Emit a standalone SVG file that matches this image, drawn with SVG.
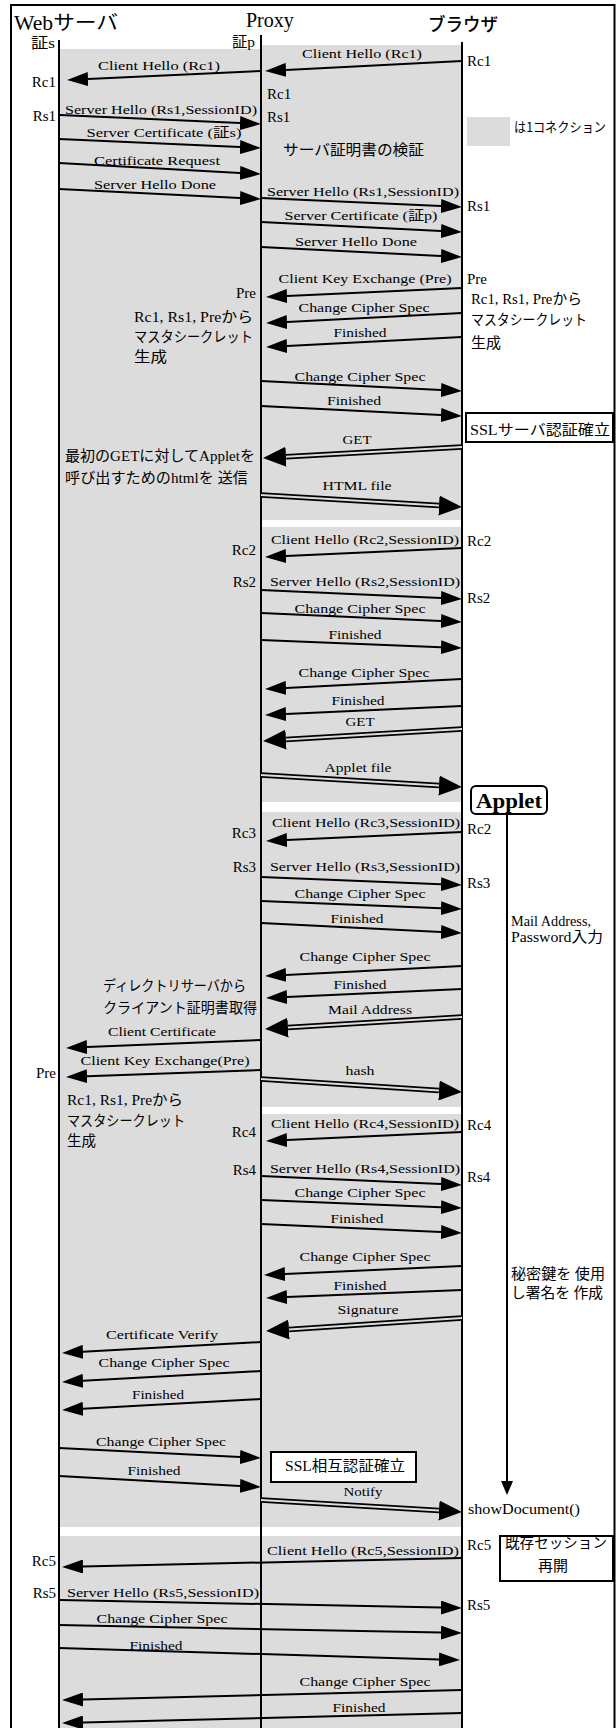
<svg xmlns="http://www.w3.org/2000/svg" width="616" height="1728" viewBox="0 0 616 1728">
<style>
.bg{fill:#dcdcdc}
.ll{stroke:#000;stroke-width:2;fill:none}
.m{stroke:#000;stroke-width:2;fill:none;marker-end:url(#ah)}
.do{stroke:#000;stroke-width:5.5;fill:none;marker-end:url(#ah2)}
.di{stroke:#dcdcdc;stroke-width:2;fill:none}
.box{fill:#fff;stroke:#000;stroke-width:2}
text{font-family:"Liberation Serif","Noto Sans CJK JP",serif;fill:#000}
.l{font-size:13.5px;text-anchor:middle}
.s{font-size:15px}
.e{text-anchor:end}
.jp{font-family:"Liberation Serif","Noto Sans CJK JP",sans-serif;font-size:14.5px}
.g{font-family:"Noto Sans CJK JP",sans-serif}
.h{font-size:20px}
</style>
<defs>
<marker id="ah" markerWidth="21" markerHeight="14" refX="0" refY="7" orient="auto" markerUnits="userSpaceOnUse"><path d="M0,0 L21,7 L0,14 z" fill="#000"/></marker>
<marker id="ah2" markerWidth="23" markerHeight="20" refX="0" refY="10" orient="auto" markerUnits="userSpaceOnUse"><path d="M0,0 L23,10 L0,20 z" fill="#000"/></marker>
</defs>
<rect x="0" y="0" width="616" height="1728" fill="#fff"/>
<rect x="11" y="5" width="603.5" height="1740" fill="none" stroke="#000" stroke-width="2"/>

<g id="connections">
<rect class="bg" x="59" y="49" width="202" height="1478"/>
<rect class="bg" x="59" y="1536" width="202" height="200"/>
<rect class="bg" x="261" y="45" width="201" height="475"/>
<rect class="bg" x="261" y="527" width="201" height="275"/>
<rect class="bg" x="261" y="812" width="201" height="295"/>
<rect class="bg" x="261" y="1114" width="201" height="413"/>
<rect class="bg" x="261" y="1536" width="201" height="200"/>
</g>

<g id="legend">
<rect class="bg" x="467" y="117" width="43" height="29"/>
<text class="g" x="514" y="132" font-size="13.5" textLength="92" lengthAdjust="spacingAndGlyphs">は1コネクション</text>
</g>

<g id="web">
<text class="h" x="14" y="30" textLength="104" lengthAdjust="spacingAndGlyphs">Web<tspan class="g">サーバ</tspan></text>
<text class="s" x="31" y="48" textLength="24" lengthAdjust="spacingAndGlyphs"><tspan class="g">証</tspan>s</text>
<line class="ll" x1="59" y1="40" x2="59" y2="1740"/>
</g>
<g id="proxy">
<text class="h" x="246" y="27">Proxy</text>
<text class="s" x="232" y="47" textLength="23" lengthAdjust="spacingAndGlyphs"><tspan class="g">証</tspan>p</text>
<line class="ll" x1="261" y1="35" x2="261" y2="1740"/>
</g>
<g id="browser">
<text class="g" x="428" y="31" font-size="18" font-weight="500" textLength="70" lengthAdjust="spacingAndGlyphs">ブラウザ</text>
<line class="ll" x1="462" y1="42" x2="462" y2="1740"/>
</g>
<g id="applet">
<rect x="471" y="786" width="76" height="28" rx="5" fill="#fff" stroke="#000" stroke-width="2"/>
<text x="509" y="808" font-size="21" font-weight="bold" text-anchor="middle" textLength="66" lengthAdjust="spacingAndGlyphs">Applet</text>
</g>

<g id="connectors">
<line class="ll" x1="507" y1="814" x2="507" y2="1482"/>
<polygon points="501,1481 513,1481 507,1495" fill="#000"/>
<path class="m" d="M462,61 L286,69.9"/>
<path class="m" d="M261,71 L88,79"/>
<path class="m" d="M60,115 L240,123.1"/>
<path class="m" d="M59,139 L240,147.1"/>
<path class="m" d="M59,163 L240,172.9"/>
<path class="m" d="M59,189 L240,198"/>
<path class="m" d="M261,198 L441,206.1"/>
<path class="m" d="M261,222 L441,231"/>
<path class="m" d="M261,247 L441,256"/>
<path class="m" d="M462,288 L287,296"/>
<path class="m" d="M462,313 L287,322"/>
<path class="m" d="M462,337 L287,346"/>
<path class="m" d="M261,381 L441,390"/>
<path class="m" d="M261,406 L441,415"/>
<path class="do" d="M462,447 L286,456.7"/><path class="di" d="M462,447 L286,456.7"/>
<path class="do" d="M261,495 L439,505.6"/><path class="di" d="M261,495 L439,505.6"/>
<path class="m" d="M462,548 L286,556"/>
<path class="m" d="M261,590 L441,598.1"/>
<path class="m" d="M261,613 L441,621.1"/>
<path class="m" d="M261,640 L441,647.2"/>
<path class="m" d="M462,679 L286,687.9"/>
<path class="m" d="M462,706 L286,714"/>
<path class="do" d="M462,729 L286,739.6"/><path class="di" d="M462,729 L286,739.6"/>
<path class="do" d="M261,775 L439,785.6"/><path class="di" d="M261,775 L439,785.6"/>
<path class="m" d="M462,832 L287,840"/>
<path class="m" d="M261,877 L441,884.2"/>
<path class="m" d="M261,901 L441,908.2"/>
<path class="m" d="M261,923 L441,932"/>
<path class="m" d="M462,966 L286,974.9"/>
<path class="m" d="M462,989 L287,997"/>
<path class="do" d="M462,1017 L288,1027.6"/><path class="di" d="M462,1017 L288,1027.6"/>
<path class="m" d="M261,1040 L87,1047.1"/>
<path class="m" d="M261,1070 L87,1076.2"/>
<path class="do" d="M261,1079 L439,1090.5"/><path class="di" d="M261,1079 L439,1090.5"/>
<path class="m" d="M462,1132 L287,1140"/>
<path class="m" d="M261,1176 L441,1184.1"/>
<path class="m" d="M261,1200 L441,1207.2"/>
<path class="m" d="M261,1224 L441,1232.1"/>
<path class="m" d="M462,1266 L285,1274"/>
<path class="m" d="M462,1290 L287,1297.1"/>
<path class="do" d="M462,1318 L289,1329.5"/><path class="di" d="M462,1318 L289,1329.5"/>
<path class="m" d="M261,1342 L83,1351.8"/>
<path class="m" d="M261,1371 L83,1380.8"/>
<path class="m" d="M261,1399 L83,1408.8"/>
<path class="m" d="M59,1448 L240,1457"/>
<path class="m" d="M59,1476 L240,1485.9"/>
<path class="do" d="M261,1500 L439,1510.6"/><path class="di" d="M261,1500 L439,1510.6"/>
<path class="m" d="M462,1558 L83,1566.5"/>
<path class="m" d="M60,1600 L441,1607.6"/>
<path class="m" d="M59,1625 L441,1632.6"/>
<path class="m" d="M59,1648 L439,1659.4"/>
<path class="m" d="M462,1690 L83,1699.5"/>
<path class="m" d="M462,1713 L83,1722.5"/>
</g>

<g id="labels">
<text class="l" x="362" y="58" textLength="120" lengthAdjust="spacingAndGlyphs">Client Hello (Rc1)</text>
<text class="l" x="159" y="70" textLength="122" lengthAdjust="spacingAndGlyphs">Client Hello (Rc1)</text>
<text class="l" x="161" y="114" textLength="192" lengthAdjust="spacingAndGlyphs">Server Hello (Rs1,SessionID)</text>
<text class="l" x="164" y="137" textLength="155" lengthAdjust="spacingAndGlyphs">Server Certificate (<tspan class="g">証</tspan>s)</text>
<text class="l" x="157" y="165" textLength="126" lengthAdjust="spacingAndGlyphs">Certificate Request</text>
<text class="l" x="155" y="189" textLength="122" lengthAdjust="spacingAndGlyphs">Server Hello Done</text>
<text class="l" x="363" y="196" textLength="192" lengthAdjust="spacingAndGlyphs">Server Hello (Rs1,SessionID)</text>
<text class="l" x="361" y="220" textLength="153" lengthAdjust="spacingAndGlyphs">Server Certificate (<tspan class="g">証</tspan>p)</text>
<text class="l" x="356" y="246" textLength="122" lengthAdjust="spacingAndGlyphs">Server Hello Done</text>
<text class="l" x="365" y="283" textLength="173" lengthAdjust="spacingAndGlyphs">Client Key Exchange (Pre)</text>
<text class="l" x="364" y="312" textLength="131" lengthAdjust="spacingAndGlyphs">Change Cipher Spec</text>
<text class="l" x="360" y="337" textLength="53" lengthAdjust="spacingAndGlyphs">Finished</text>
<text class="l" x="360" y="381" textLength="131" lengthAdjust="spacingAndGlyphs">Change Cipher Spec</text>
<text class="l" x="354" y="405" textLength="54" lengthAdjust="spacingAndGlyphs">Finished</text>
<text class="l" x="357" y="444" textLength="29" lengthAdjust="spacingAndGlyphs">GET</text>
<text class="l" x="357" y="490" textLength="69" lengthAdjust="spacingAndGlyphs">HTML file</text>
<text class="l" x="365" y="544" textLength="188" lengthAdjust="spacingAndGlyphs">Client Hello (Rc2,SessionID)</text>
<text class="l" x="365" y="586" textLength="190" lengthAdjust="spacingAndGlyphs">Server Hello (Rs2,SessionID)</text>
<text class="l" x="360" y="613" textLength="131" lengthAdjust="spacingAndGlyphs">Change Cipher Spec</text>
<text class="l" x="355" y="639" textLength="53" lengthAdjust="spacingAndGlyphs">Finished</text>
<text class="l" x="364" y="677" textLength="131" lengthAdjust="spacingAndGlyphs">Change Cipher Spec</text>
<text class="l" x="358" y="705" textLength="53" lengthAdjust="spacingAndGlyphs">Finished</text>
<text class="l" x="360" y="726" textLength="29" lengthAdjust="spacingAndGlyphs">GET</text>
<text class="l" x="358" y="772" textLength="67" lengthAdjust="spacingAndGlyphs">Applet file</text>
<text class="l" x="366" y="827" textLength="188" lengthAdjust="spacingAndGlyphs">Client Hello (Rc3,SessionID)</text>
<text class="l" x="365" y="871" textLength="190" lengthAdjust="spacingAndGlyphs">Server Hello (Rs3,SessionID)</text>
<text class="l" x="360" y="898" textLength="131" lengthAdjust="spacingAndGlyphs">Change Cipher Spec</text>
<text class="l" x="357" y="923" textLength="53" lengthAdjust="spacingAndGlyphs">Finished</text>
<text class="l" x="365" y="961" textLength="131" lengthAdjust="spacingAndGlyphs">Change Cipher Spec</text>
<text class="l" x="360" y="989" textLength="53" lengthAdjust="spacingAndGlyphs">Finished</text>
<text class="l" x="370" y="1014" textLength="84" lengthAdjust="spacingAndGlyphs">Mail Address</text>
<text class="l" x="162" y="1036" textLength="108" lengthAdjust="spacingAndGlyphs">Client Certificate</text>
<text class="l" x="165" y="1065" textLength="169" lengthAdjust="spacingAndGlyphs">Client Key Exchange(Pre)</text>
<text class="l" x="360" y="1075" textLength="29" lengthAdjust="spacingAndGlyphs">hash</text>
<text class="l" x="365" y="1128" textLength="188" lengthAdjust="spacingAndGlyphs">Client Hello (Rc4,SessionID)</text>
<text class="l" x="365" y="1173" textLength="190" lengthAdjust="spacingAndGlyphs">Server Hello (Rs4,SessionID)</text>
<text class="l" x="360" y="1197" textLength="131" lengthAdjust="spacingAndGlyphs">Change Cipher Spec</text>
<text class="l" x="357" y="1223" textLength="53" lengthAdjust="spacingAndGlyphs">Finished</text>
<text class="l" x="365" y="1261" textLength="131" lengthAdjust="spacingAndGlyphs">Change Cipher Spec</text>
<text class="l" x="360" y="1290" textLength="53" lengthAdjust="spacingAndGlyphs">Finished</text>
<text class="l" x="368" y="1314" textLength="61" lengthAdjust="spacingAndGlyphs">Signature</text>
<text class="l" x="162" y="1339" textLength="112" lengthAdjust="spacingAndGlyphs">Certificate Verify</text>
<text class="l" x="164" y="1367" textLength="131" lengthAdjust="spacingAndGlyphs">Change Cipher Spec</text>
<text class="l" x="158" y="1399" textLength="52" lengthAdjust="spacingAndGlyphs">Finished</text>
<text class="l" x="161" y="1446" textLength="130" lengthAdjust="spacingAndGlyphs">Change Cipher Spec</text>
<text class="l" x="154" y="1475" textLength="53" lengthAdjust="spacingAndGlyphs">Finished</text>
<text class="l" x="363" y="1496" textLength="39" lengthAdjust="spacingAndGlyphs">Notify</text>
<text class="l" x="363" y="1555" textLength="192" lengthAdjust="spacingAndGlyphs">Client Hello (Rc5,SessionID)</text>
<text class="l" x="163" y="1597" textLength="192" lengthAdjust="spacingAndGlyphs">Server Hello (Rs5,SessionID)</text>
<text class="l" x="162" y="1623" textLength="131" lengthAdjust="spacingAndGlyphs">Change Cipher Spec</text>
<text class="l" x="156" y="1650" textLength="53" lengthAdjust="spacingAndGlyphs">Finished</text>
<text class="l" x="365" y="1686" textLength="131" lengthAdjust="spacingAndGlyphs">Change Cipher Spec</text>
<text class="l" x="359" y="1712" textLength="53" lengthAdjust="spacingAndGlyphs">Finished</text>
</g>

<g id="values">
<text class="s" x="467" y="66">Rc1</text>
<text class="s e" x="56" y="87">Rc1</text>
<text class="s" x="267" y="99">Rc1</text>
<text class="s e" x="56" y="121">Rs1</text>
<text class="s" x="267" y="122">Rs1</text>
<text class="s" x="467" y="211">Rs1</text>
<text class="s" x="467" y="284">Pre</text>
<text class="s e" x="256" y="298">Pre</text>
<text class="s" x="467" y="546">Rc2</text>
<text class="s e" x="256" y="555">Rc2</text>
<text class="s e" x="256" y="587">Rs2</text>
<text class="s" x="467" y="603">Rs2</text>
<text class="s" x="467" y="834">Rc2</text>
<text class="s e" x="256" y="838">Rc3</text>
<text class="s e" x="256" y="872">Rs3</text>
<text class="s" x="467" y="888">Rs3</text>
<text class="s e" x="56" y="1078">Pre</text>
<text class="s" x="467" y="1130">Rc4</text>
<text class="s e" x="256" y="1137">Rc4</text>
<text class="s e" x="256" y="1175">Rs4</text>
<text class="s" x="467" y="1182">Rs4</text>
<text class="s" x="467" y="1550">Rc5</text>
<text class="s e" x="56" y="1566">Rc5</text>
<text class="s e" x="56" y="1598">Rs5</text>
<text class="s" x="467" y="1610">Rs5</text>
<text x="468" y="1514" font-size="14" textLength="112" lengthAdjust="spacingAndGlyphs">showDocument()</text>
</g>

<g id="notes">
<text class="g" x="283" y="155" font-size="15" textLength="141" lengthAdjust="spacingAndGlyphs">サーバ証明書の検証</text>
<text class="jp" x="471" y="304" textLength="111" lengthAdjust="spacingAndGlyphs">Rc1, Rs1, Preから</text>
<text class="g" x="471" y="325" font-size="14.5" textLength="116" lengthAdjust="spacingAndGlyphs">マスタシークレット</text>
<text class="g" x="471" y="348" font-size="14.5" textLength="30" lengthAdjust="spacingAndGlyphs">生成</text>
<text class="jp" x="134" y="322" textLength="119" lengthAdjust="spacingAndGlyphs">Rc1, Rs1, Preから</text>
<text class="g" x="134" y="342" font-size="14.5" textLength="119" lengthAdjust="spacingAndGlyphs">マスタシークレット</text>
<text class="g" x="134" y="362" font-size="14.5" textLength="33" lengthAdjust="spacingAndGlyphs">生成</text>
<rect class="box" x="466" y="413" width="147" height="29"/>
<text class="jp" x="470" y="435" font-size="16" textLength="140" lengthAdjust="spacingAndGlyphs">SSLサーバ認証確立</text>
<text class="jp" x="65" y="461" textLength="190" lengthAdjust="spacingAndGlyphs">最初のGETに対してAppletを</text>
<text class="jp" x="65" y="483" textLength="183" lengthAdjust="spacingAndGlyphs">呼び出すためのhtmlを 送信</text>
<text class="jp" x="511" y="926" textLength="80" lengthAdjust="spacingAndGlyphs">Mail Address,</text>
<text class="jp" x="511" y="942" textLength="92" lengthAdjust="spacingAndGlyphs">Password入力</text>
<text class="g" x="103" y="991" font-size="14.5" textLength="143" lengthAdjust="spacingAndGlyphs">ディレクトリサーバから</text>
<text class="g" x="103" y="1013" font-size="14.5" textLength="154" lengthAdjust="spacingAndGlyphs">クライアント証明書取得</text>
<text class="jp" x="67" y="1105" textLength="116" lengthAdjust="spacingAndGlyphs">Rc1, Rs1, Preから</text>
<text class="g" x="67" y="1126" font-size="14.5" textLength="118" lengthAdjust="spacingAndGlyphs">マスタシークレット</text>
<text class="g" x="67" y="1146" font-size="14.5" textLength="29" lengthAdjust="spacingAndGlyphs">生成</text>
<text class="g" x="511" y="1279" font-size="14.5" textLength="94" lengthAdjust="spacingAndGlyphs">秘密鍵を 使用</text>
<text class="g" x="511" y="1298" font-size="14.5" textLength="92" lengthAdjust="spacingAndGlyphs">し署名を 作成</text>
<rect class="box" x="271" y="1452" width="145" height="30"/>
<text class="jp" x="285" y="1471" font-size="15" textLength="120" lengthAdjust="spacingAndGlyphs">SSL相互認証確立</text>
<rect class="box" x="500" y="1536" width="113" height="45"/>
<text class="g" x="556" y="1548" font-size="14.5" text-anchor="middle" textLength="102" lengthAdjust="spacingAndGlyphs">既存セッション</text>
<text class="g" x="553" y="1571" font-size="14.5" text-anchor="middle" textLength="30" lengthAdjust="spacingAndGlyphs">再開</text>
</g>
</svg>
